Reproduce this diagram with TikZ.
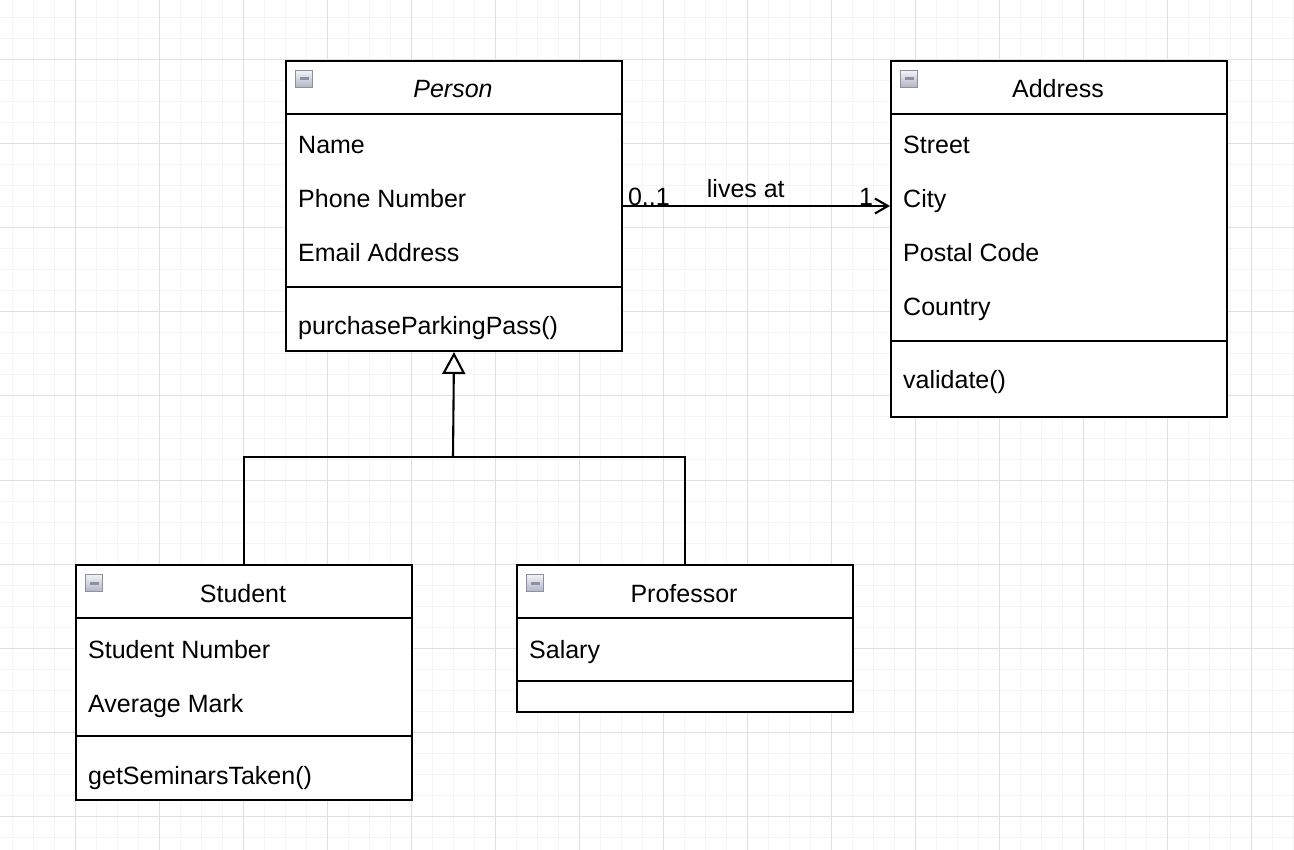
\documentclass[tikz,border=0pt]{standalone}
\usepackage{fontspec}
\setmainfont{Liberation Sans}
\usetikzlibrary{arrows.meta,positioning}

\definecolor{gridminor}{HTML}{F5F5F5}
\definecolor{gridmajor}{HTML}{E0E0E0}
\definecolor{iconedge}{HTML}{8A90A6}
\definecolor{icontop}{HTML}{F2F3F6}
\definecolor{iconbot}{HTML}{B2B6C2}

\tikzset{
  umlclass/.style={draw, line width=2pt, fill=white, anchor=north west,
    minimum width=336pt, inner sep=0pt},
  umltext/.style={anchor=base west, inner sep=0pt, font=\fontsize{25}{30}\selectfont},
  umltitle/.style={anchor=base, inner sep=0pt, font=\fontsize{25}{30}\selectfont},
  collapse/.style={draw=iconedge, line width=1.4pt, top color=icontop,
    bottom color=iconbot, minimum size=17pt, inner sep=0pt,
    path picture={\draw[line width=3pt]
      ([xshift=4pt]path picture bounding box.west) --
      ([xshift=-4pt]path picture bounding box.east);}},
  umlline/.style={line width=2.1pt},
}

\begin{document}
\begin{tikzpicture}[x=1pt,y=-1pt]
 \useasboundingbox (0,0) rectangle (1294,850);
 % background grid
 \foreach \x in {12,33,...,1294} { \draw[gridminor, line width=1pt] (\x,0) -- (\x,850); }
 \foreach \y in {18,39,...,850} { \draw[gridminor, line width=1pt] (0,\y) -- (1294,\y); }
 \foreach \x in {75,159,...,1294} { \draw[gridmajor, line width=1pt] (\x,0) -- (\x,850); }
 \foreach \y in {60,144,...,850} { \draw[gridmajor, line width=1pt] (0,\y) -- (1294,\y); }

 % the classes
 \node[umlclass, minimum height=290pt] (person) at (285,60) {};
 \node[umlclass, minimum height=356pt] (address) at (890,60) {};
 \node[umlclass, minimum height=235pt] (student) at (75,564) {};
 \node[umlclass, minimum height=147pt] (professor) at (516,564) {};

 % compartments
 \foreach \c/\s in {person/227,address/281,student/172,professor/117} {
 \draw[umlline] ([yshift=-54pt]\c.north west) -- ([yshift=-54pt]\c.north east);
 \draw[umlline] ([yshift=-\s pt]\c.north west) -- ([yshift=-\s pt]\c.north east);
 }

 % collapse icons
 \node[collapse] (personicon) at (304,79) {};
 \node[collapse] (addressicon) at (909,79) {};
 \node[collapse] (studenticon) at (94,583) {};
 \node[collapse] (professoricon) at (535,583) {};

 % titles
 \node[umltitle] (persontitle) at (453,98) {\textit{Person}};
 \node[umltitle] (addresstitle) at (1058,98) {Address};
 \node[umltitle] (studenttitle) at (243,602) {Student};
 \node[umltitle] (professortitle) at (684,602) {Professor};

 % attributes and operations
 \node[umltext] (pname) at (298,154) {Name};
 \node[umltext] (pphone) at (298,208) {Phone Number};
 \node[umltext] (pemail) at (298,262) {Email Address};
 \node[umltext] (ppark) at (298,335) {purchaseParkingPass()};

 \node[umltext] (astreet) at (903,154) {Street};
 \node[umltext] (acity) at (903,208) {City};
 \node[umltext] (apostal) at (903,262) {Postal Code};
 \node[umltext] (acountry) at (903,316) {Country};
 \node[umltext] (avalid) at (903,389) {validate()};

 \node[umltext] (snumber) at (88,658) {Student Number};
 \node[umltext] (smark) at (88,712) {Average Mark};
 \node[umltext] (sseminars) at (88,784) {getSeminarsTaken()};

 \node[umltext] (psalary) at (529,658) {Salary};

 % association
 \draw[umlline, -{Straight Barb[length=13pt,width=15pt]}] (person.east) -- (person.east -| address.west)
   node[umltext, pos=0, xshift=4pt] {0..1}
   node[umltitle, pos=0.46, yshift=8pt] {lives at}
   node[umltext, anchor=base east, pos=1, xshift=-16pt] {1};

 % generalization
 \coordinate (split) at (453,457);
 \draw[umlline, -{Triangle[length=22pt,width=23pt,fill=white]}] (split) -- (person.south);
 \draw[umlline] (student.north) |- (split) -| (professor.north);

\end{tikzpicture}
\end{document}
